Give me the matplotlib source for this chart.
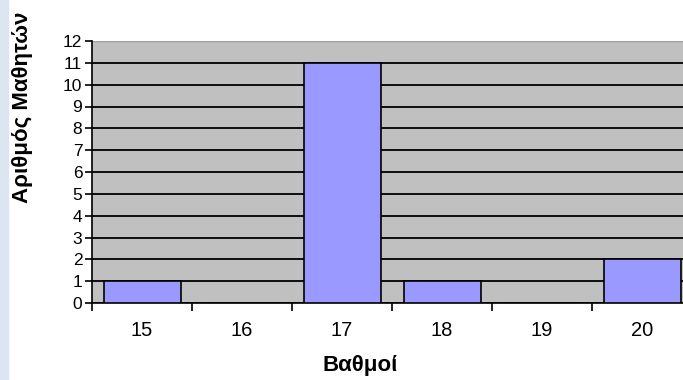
import matplotlib
matplotlib.use('Agg')
import matplotlib.pyplot as pl
import matplotlib.patches as patches

grades = ['15', '16', '17', '18', '19', '20']
students = [1, 0, 11, 1, 0, 2]
y_ticks = list(range(0, 13))

pl.rcParams['font.family'] = ['Liberation Sans', 'DejaVu Sans']

W, H = 683, 380
fig = pl.figure(figsize=(W / 100, H / 100), dpi=100)

# light blue strip at the left edge of the original screenshot
fig.patches.append(patches.Rectangle((0, 0), 8 / W, 1, transform=fig.transFigure,
                                     color='#dce6f2', zorder=0))

left, right, bottom, top = 92, 683, 303, 41
ax = fig.add_axes([left / W, 1 - bottom / H, (right - left) / W, (bottom - top) / H])
ax.set_facecolor('#c0c0c0')

x = list(range(len(grades)))
ax.bar(x, students, width=0.77, color='#9999ff', edgecolor='black', linewidth=1.2, zorder=3)

ax.set_xlim(-0.5, len(grades) - 0.5 - 0.09)
ax.set_ylim(0, 12)
ax.set_yticks(y_ticks)
ax.set_yticklabels([str(v) for v in y_ticks], fontsize=12.5)
ax.yaxis.grid(True, color='black', linewidth=1.3, zorder=1)
ax.set_axisbelow(True)
# top edge of the plot area is a light line, not a black gridline
ax.get_ygridlines()[-1].set_color('#a0a0a0')
ax.get_ygridlines()[-1].set_linewidth(1.0)

ax.set_xticks([i + 0.5 for i in range(-1, len(grades) - 1)])
ax.set_xticklabels([])
ax.set_xticks(x, minor=True)
ax.set_xticklabels(grades, minor=True, fontsize=14.5)
ax.tick_params(axis='x', which='minor', length=0, pad=13)
ax.tick_params(axis='x', which='major', length=6, width=1.2, direction='out')
ax.tick_params(axis='y', length=5, width=1.2, direction='out', pad=2)

for side in ['top', 'right']:
    ax.spines[side].set_visible(False)
ax.spines['left'].set_linewidth(1.2)
ax.spines['bottom'].set_linewidth(1.2)

fig.text(360 / W, 1 - 365 / H, 'Βαθμοί', ha='center', va='center',
         fontsize=16, fontweight='bold')
fig.text(23 / W, 1 - 107 / H, 'Αριθμός Μαθητών', ha='center', va='center',
         rotation=90, fontsize=16, fontweight='bold')

fig.savefig('out.png', dpi=100)
